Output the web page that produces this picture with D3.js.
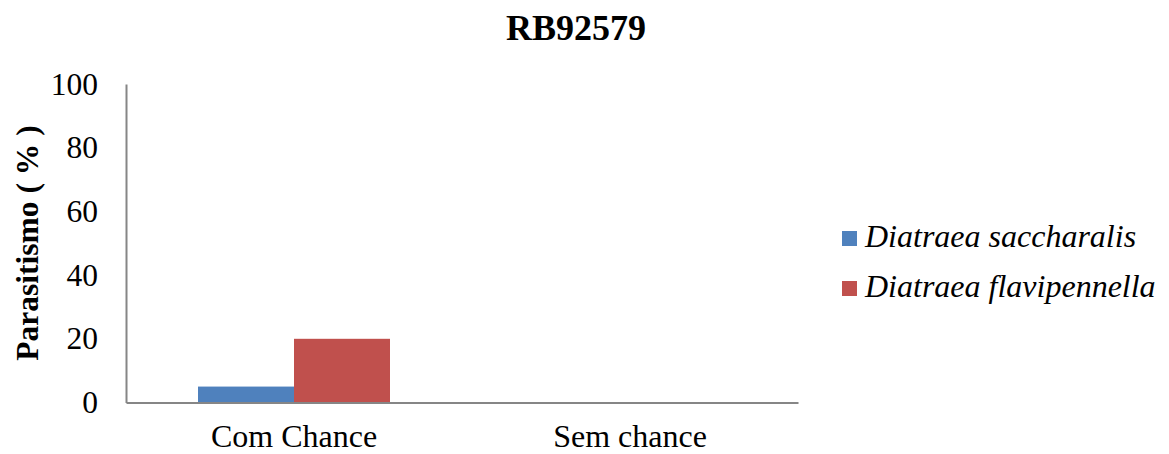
<!DOCTYPE html>
<html>
<head>
<meta charset="utf-8">
<script src="https://cdn.jsdelivr.net/npm/d3@7"></script>
<style>
  html, body { margin: 0; padding: 0; background: #fff; }
  svg text { font-family: "Liberation Serif", "Times New Roman", Tinos, "DejaVu Serif", serif !important; fill: #000; }
</style>
</head>
<body>
<svg id="chart" width="1169" height="454"></svg>
<script>
// Parasitism by condition for cultivar RB92579
const categories = ["Com Chance", "Sem chance"];
const seriesNames = ["Diatraea saccharalis", "Diatraea flavipennella"];
const saccharalis = [5, 0];
const flavipennella = [20, 0];
const seriesColors = ["#4f81bd", "#c0504d"];
const yTicks = [0, 20, 40, 60, 80, 100];

const svg = d3.select("#chart");
const plot = { left: 126, right: 798, top: 84, bottom: 402.5 };

const x = d3.scaleBand().domain(categories).range([plot.left, plot.right]).paddingInner(0).paddingOuter(0);
const xs = d3.scaleBand().domain(seriesNames).range([0, x.bandwidth()]).paddingInner(0).paddingOuter(0.75);
const y = d3.scaleLinear().domain([0, 100]).range([plot.bottom, plot.top]);

const values = [saccharalis, flavipennella];

// bars
seriesNames.forEach((name, si) => {
  svg.append("g")
    .selectAll("rect")
    .data(categories.map((c, i) => ({ c, v: values[si][i] })))
    .join("rect")
    .attr("x", d => x(d.c) + xs(name))
    .attr("width", xs.bandwidth())
    .attr("y", d => y(d.v))
    .attr("height", d => y(0) - y(d.v))
    .attr("fill", seriesColors[si]);
});

// y axis
const yAxis = svg.append("g")
  .attr("transform", `translate(${plot.left},0)`)
  .call(d3.axisLeft(y).tickValues(yTicks).tickSize(0).tickPadding(28).tickFormat(d3.format("d")));
yAxis.select(".domain").attr("stroke", "#868686").attr("stroke-width", 2);
yAxis.selectAll("text").attr("font-size", 31.5);

// x axis
const xAxis = svg.append("g")
  .attr("transform", `translate(0,${plot.bottom})`)
  .call(d3.axisBottom(x).tickSize(0).tickPadding(22));
xAxis.select(".domain").attr("stroke", "#868686").attr("stroke-width", 2);
xAxis.selectAll("text").attr("font-size", 32);

// title
svg.append("text")
  .attr("x", 576).attr("y", 40)
  .attr("text-anchor", "middle")
  .attr("font-weight", "bold").attr("font-size", 36)
  .text("RB92579");

// y axis title
svg.append("text")
  .attr("transform", "translate(38,243) rotate(-90)")
  .attr("text-anchor", "middle")
  .attr("font-weight", "bold").attr("font-size", 31.5)
  .text("Parasitismo ( % )");

// legend
const legend = svg.append("g").attr("transform", "translate(842,231)");
seriesNames.forEach((name, i) => {
  const g = legend.append("g").attr("transform", `translate(0,${i * 50})`);
  g.append("rect").attr("width", 15).attr("height", 15).attr("fill", seriesColors[i]);
  g.append("text")
    .attr("x", 23).attr("y", 16)
    .attr("font-style", "italic").attr("font-size", 32)
    .text(name);
});
</script>
</body>
</html>
